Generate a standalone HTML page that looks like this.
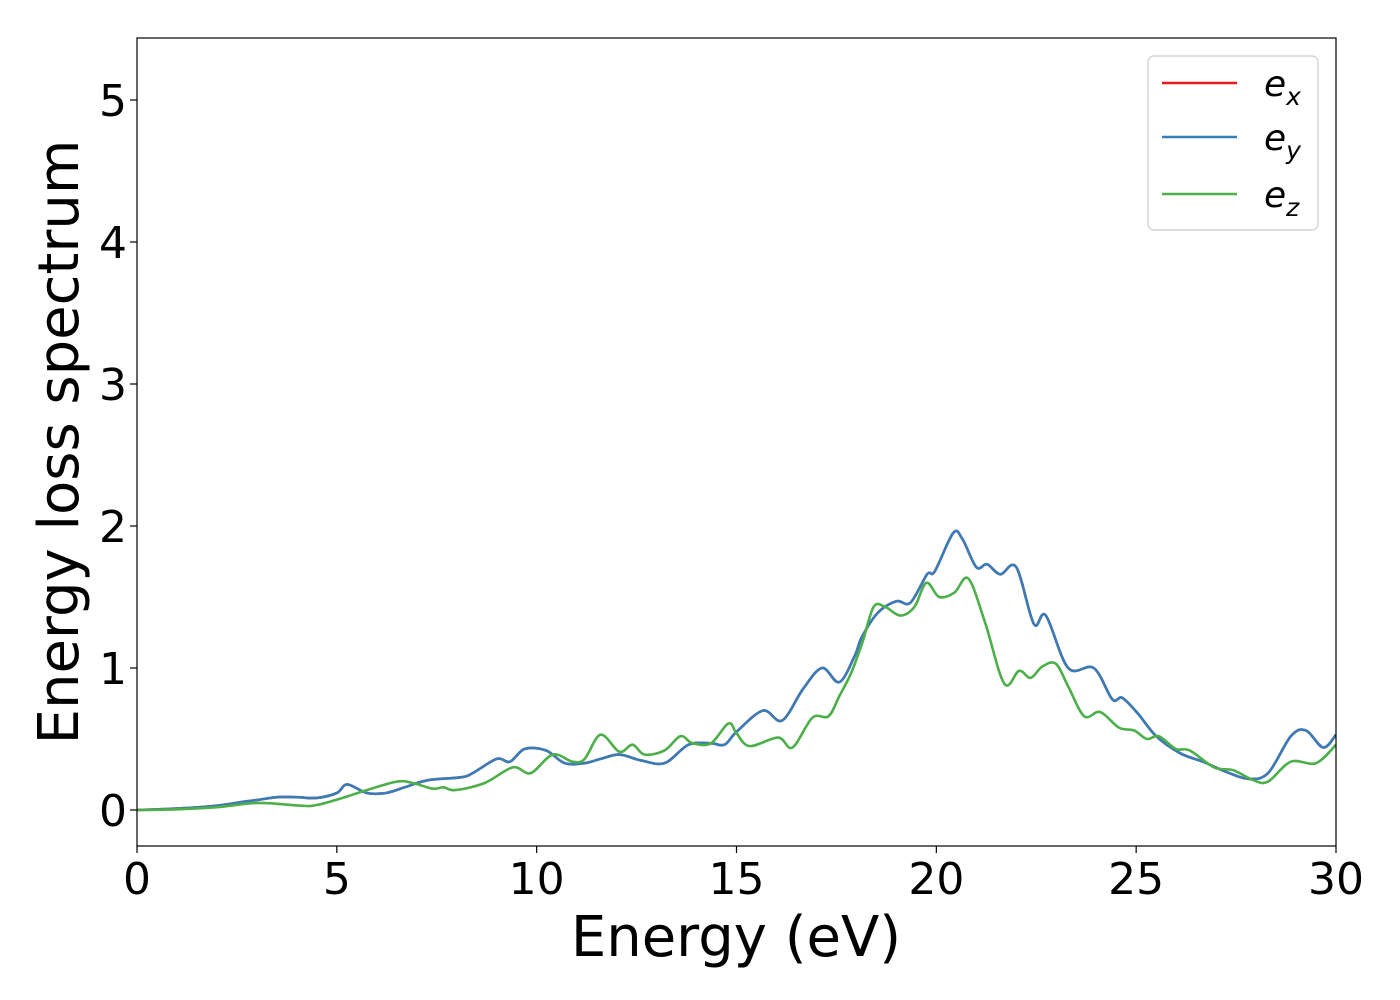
<!DOCTYPE html>
<html><head><meta charset="utf-8"><style>
html,body{margin:0;padding:0;background:#fff;}
svg{display:block;font-family:"DejaVu Sans","Liberation Sans",sans-serif;}
</style></head><body>
<svg id="chart" width="1400" height="1000" viewBox="0 0 1400 1000">
  <rect x="0" y="0" width="1400" height="1000" fill="#fff"/>
  <g id="series"></g>
  <rect x="137" y="38" width="1199" height="808" fill="none" stroke="#000" stroke-width="1.2"/>
  <g id="xticks"></g>
  <g id="yticks"></g>
  <text x="736" y="956" font-size="56" text-anchor="middle">Energy (eV)</text>
  <text transform="translate(78,442) rotate(-90)" font-size="56" text-anchor="middle">Energy loss spectrum</text>
  <g>
    <rect x="1148" y="56" width="170" height="174" rx="6" fill="#fff" fill-opacity="0.8" stroke="#ccc" stroke-width="1.2"/>
    <g>
      <line x1="1162" y1="83" x2="1237" y2="83" stroke="#e41a1c" stroke-width="2.5"/>
      <text x="1264" y="96" font-size="36" font-style="italic">e<tspan font-size="25" dy="9">x</tspan></text>
    </g>
    <g>
      <line x1="1162" y1="137" x2="1237" y2="137" stroke="#377eb8" stroke-width="2.5"/>
      <text x="1264" y="150" font-size="36" font-style="italic">e<tspan font-size="25" dy="9">y</tspan></text>
    </g>
    <g>
      <line x1="1162" y1="194" x2="1237" y2="194" stroke="#4daf4a" stroke-width="2.5"/>
      <text x="1264" y="207" font-size="36" font-style="italic">e<tspan font-size="25" dy="9">z</tspan></text>
    </g>
  </g>
</svg>
<script>
const xTickValues = [0, 5, 10, 15, 20, 25, 30];
const yTickValues = [0, 1, 2, 3, 4, 5];
const energyXY = [0,1,2,2.7,3,3.5,4,4.5,5,5.26,5.75,6.23,6.7,7.28,8.1,8.4,9.0,9.33,9.7,10.23,10.7,11.2,11.6,12.07,12.6,13.2,13.8,14.36,14.7,15.0,15.66,16.14,16.66,17.14,17.57,17.95,18.14,18.54,19.0,19.35,19.77,19.96,20.42,20.65,21.0,21.27,21.6,22.0,22.44,22.74,23.3,23.94,24.4,24.65,25.04,25.5,26.1,26.67,27.24,27.8,28.3,28.87,29.25,29.68,30];
const eyValues = [0,0.01,0.03,0.06,0.07,0.09,0.09,0.085,0.12,0.18,0.12,0.12,0.16,0.21,0.23,0.26,0.36,0.34,0.43,0.42,0.33,0.33,0.36,0.39,0.35,0.33,0.46,0.47,0.46,0.55,0.70,0.63,0.85,1.0,0.9,1.08,1.22,1.39,1.47,1.46,1.66,1.68,1.95,1.91,1.71,1.73,1.66,1.71,1.31,1.37,1.0,1.0,0.78,0.79,0.68,0.52,0.40,0.34,0.27,0.22,0.26,0.52,0.56,0.44,0.53];
const exValues = eyValues.slice();
const energyZ = [0,1,2,3.05,4.1,4.5,5.2,5.75,6.5,6.9,7.4,7.67,7.96,8.7,9.4,9.85,10.4,10.9,11.2,11.6,12.07,12.4,12.7,13.2,13.6,13.9,14.36,14.8,15.0,15.33,16.04,16.4,16.9,17.3,17.57,17.86,18.15,18.43,18.72,19.1,19.45,19.75,20.07,20.45,20.8,21.22,21.7,22.07,22.36,22.65,22.99,23.3,23.7,24.1,24.57,24.95,25.27,25.57,25.99,26.34,26.95,27.43,27.93,28.3,28.87,29.5,30];
const ezValues = [0,0.005,0.02,0.05,0.03,0.035,0.09,0.14,0.2,0.19,0.15,0.16,0.14,0.19,0.3,0.26,0.39,0.34,0.36,0.53,0.41,0.46,0.39,0.42,0.52,0.47,0.47,0.61,0.54,0.45,0.51,0.44,0.65,0.66,0.80,0.96,1.18,1.43,1.43,1.37,1.43,1.6,1.5,1.53,1.63,1.32,0.89,0.98,0.93,1.01,1.03,0.87,0.66,0.69,0.58,0.56,0.50,0.52,0.43,0.42,0.30,0.28,0.21,0.20,0.34,0.33,0.46];

const NS = "http://www.w3.org/2000/svg";
const X0 = 137, X1 = 1336, YT = 38, YB = 846;
const xMin = 0, xMax = 30;
const y0px = 810, pxPerUnit = 142;
function sx(v){ return X0 + (v - xMin) / (xMax - xMin) * (X1 - X0); }
function sy(v){ return y0px - v * pxPerUnit; }

function smoothPath(xs, ys){
  const p = xs.map((x,i)=>[sx(x), sy(ys[i])]);
  let d = "M" + p[0][0].toFixed(1) + "," + p[0][1].toFixed(1);
  for (let i = 0; i < p.length - 1; i++){
    const a = p[Math.max(0,i-1)], b = p[i], c = p[i+1], e = p[Math.min(p.length-1,i+2)];
    const c1 = [b[0] + (c[0]-a[0])/6, b[1] + (c[1]-a[1])/6];
    const c2 = [c[0] - (e[0]-b[0])/6, c[1] - (e[1]-b[1])/6];
    d += " C" + c1[0].toFixed(1)+","+c1[1].toFixed(1)+" "+c2[0].toFixed(1)+","+c2[1].toFixed(1)+" "+c[0].toFixed(1)+","+c[1].toFixed(1);
  }
  return d;
}

const series = document.getElementById("series");
const cp = document.createElementNS(NS, "clipPath");
cp.setAttribute("id", "plotclip");
const cr = document.createElementNS(NS, "rect");
cr.setAttribute("x", X0); cr.setAttribute("y", YT); cr.setAttribute("width", X1-X0); cr.setAttribute("height", YB-YT);
cp.appendChild(cr);
series.appendChild(cp);
series.setAttribute("clip-path", "url(#plotclip)");

function addLine(xs, ys, color, name){
  const path = document.createElementNS(NS, "path");
  path.setAttribute("d", smoothPath(xs, ys));
  path.setAttribute("fill", "none");
  path.setAttribute("stroke", color);
  path.setAttribute("stroke-width", "2.6");
  path.setAttribute("stroke-linejoin", "round");
  
  
  series.appendChild(path);
}
addLine(energyXY, exValues, "#e41a1c", "line-ex");
addLine(energyXY, eyValues, "#377eb8", "line-ey");
addLine(energyZ, ezValues, "#4daf4a", "line-ez");

const xg = document.getElementById("xticks");
xTickValues.forEach(v => {
  const t = document.createElementNS(NS, "line");
  t.setAttribute("x1", sx(v)); t.setAttribute("x2", sx(v));
  t.setAttribute("y1", YB); t.setAttribute("y2", YB + 7);
  t.setAttribute("stroke", "#000"); t.setAttribute("stroke-width", "1.2");
  
  
  xg.appendChild(t);
  const l = document.createElementNS(NS, "text");
  l.setAttribute("x", sx(v)); l.setAttribute("y", 894);
  l.setAttribute("font-size", "44"); l.setAttribute("text-anchor", "middle");
  l.textContent = v;
  
  
  xg.appendChild(l);
});
const yg = document.getElementById("yticks");
yTickValues.forEach(v => {
  const t = document.createElementNS(NS, "line");
  t.setAttribute("x1", X0 - 7); t.setAttribute("x2", X0);
  t.setAttribute("y1", sy(v)); t.setAttribute("y2", sy(v));
  t.setAttribute("stroke", "#000"); t.setAttribute("stroke-width", "1.2");
  
  
  yg.appendChild(t);
  const l = document.createElementNS(NS, "text");
  l.setAttribute("x", 127); l.setAttribute("y", sy(v) + 16);
  l.setAttribute("font-size", "44"); l.setAttribute("text-anchor", "end");
  l.textContent = v;
  
  
  yg.appendChild(l);
});
</script>
</body></html>
